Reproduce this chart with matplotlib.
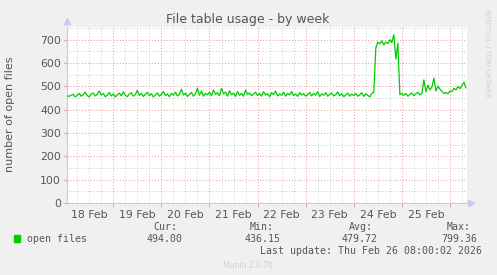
import matplotlib
matplotlib.use('Agg')
import matplotlib.pyplot as plt
import numpy as np

plt.rcParams['font.family'] = 'DejaVu Sans'

# hourly samples, hour 1 = 18 Feb 01:00 ... hour 200 = 26 Feb 08:00
open_files = [
    460, 457, 463, 466, 455, 462, 470, 458, 464, 476, 461, 455, 467, 472, 459, 466, 480, 463, 470, 456, 462, 474, 459, 468,
    455, 464, 471, 460, 477, 462, 456, 468, 473, 458, 465, 483, 461, 470, 457, 466, 475, 460, 469, 455, 463, 472, 458, 466,
    478, 460, 468, 456, 470, 462, 475, 459, 466, 488, 463, 471, 457, 465, 474, 458, 469, 493, 462, 480, 458, 470, 464, 476,
    459, 485, 466, 473, 460, 492, 468, 476, 458, 482, 464, 471, 457, 478, 462, 470, 458, 484, 465, 472, 460, 468, 475, 461,
    470, 458, 477, 463, 469, 456, 473, 465, 480, 459, 467, 462, 475, 458, 470, 464, 478, 460, 468, 457, 473, 463, 469, 458,
    466, 474, 459, 470, 463, 478, 457, 468, 462, 473, 458, 466, 471, 459, 465, 476, 460, 469, 456, 463, 472, 458, 467, 461,
    470, 458, 464, 473, 457, 468, 462, 455, 470, 475, 665, 690, 683, 695, 678, 690, 684, 700, 688, 722, 618, 685, 465, 470,
    462, 470, 458, 466, 472, 460, 468, 475, 463, 470, 528, 478, 505, 485, 498, 536, 480, 502, 488, 478, 470, 474, 468, 480,
    478, 492, 485, 500, 490, 505, 518, 494,
]
hours = np.arange(1, len(open_files) + 1)

day_labels = ['18 Feb', '19 Feb', '20 Feb', '21 Feb', '22 Feb', '23 Feb', '24 Feb', '25 Feb']
legend_cols = ['Cur:', 'Min:', 'Avg:', 'Max:']
legend_vals = ['494.00', '436.15', '479.72', '799.36']

W, H = 497, 275
fig = plt.figure(figsize=(W / 100, H / 100), dpi=100, facecolor='#f0f0f0')

x0, x1 = 0.65, 200.5
ax = fig.add_axes([66.5 / W, 1 - 203 / H, (467 - 66.5) / W, (203 - 26.5) / H])
ax.set_facecolor('white')
ax.set_xlim(x0, x1)
ax.set_ylim(0, 757)

# grid
for h in np.arange(6, 200, 6):
    if h % 24:
        ax.axvline(h, color='#c8c8c8', lw=0.7, ls=(0, (1, 2)), zorder=1)
for y in range(50, 760, 100):
    ax.axhline(y, color='#c8c8c8', lw=0.7, ls=(0, (1, 2)), zorder=1)
for h in range(24, 200, 24):
    ax.axvline(h, color='#e89a9a', lw=0.7, ls=(0, (1, 2)), zorder=1)
for y in range(100, 760, 100):
    ax.axhline(y, color='#e89a9a', lw=0.7, ls=(0, (1, 2)), zorder=1)

ax.plot(hours, open_files, color='#00cc00', lw=0.9, zorder=3)

for s in ['top', 'right']:
    ax.spines[s].set_visible(False)
for s in ['left', 'bottom']:
    ax.spines[s].set_color('#c8c8f0')
    ax.spines[s].set_linewidth(0.8)
ax.plot([0], [1.03], marker='^', color='#c8c8f0', ms=4, transform=ax.transAxes, clip_on=False)
ax.plot([1.01], [0], marker='>', color='#c8c8f0', ms=4, transform=ax.transAxes, clip_on=False)

ax.set_yticks(range(0, 800, 100))
ax.tick_params(axis='y', length=2, color='#e89a9a', labelcolor='#555555', labelsize=7.8, pad=2)
ax.set_xticks([12 + 24 * i for i in range(len(day_labels))])
ax.set_xticklabels(day_labels)
ax.tick_params(axis='x', which='major', length=0, labelcolor='#555555', labelsize=7.8, pad=5)
ax.set_xticks(range(24, 200, 24), minor=True)
ax.tick_params(axis='x', which='minor', length=3, color='#e89a9a', width=0.7)

fig.text(248 / W, 1 - 19 / H, 'File table usage - by week', ha='center', va='center',
         color='#555555', fontsize=9)
fig.text(10 / W, 1 - 114 / H, 'number of open files', rotation=90, ha='center', va='center',
         color='#555555', fontsize=8)
fig.text(487 / W, 1 - 53 / H, 'RRDTOOL / TOBI OETIKER', rotation=270, ha='center', va='center',
         color='#d0d0d0', fontsize=5)

# legend
mono = 'DejaVu Sans Mono'
fig.patches.append(plt.Rectangle((14 / W, 1 - 242 / H), 6 / W, 7 / H, color='#00cc00',
                                 transform=fig.transFigure, figure=fig))
fig.text(27 / W, 1 - 239 / H, 'open files', ha='left', va='center', color='#555555',
         fontsize=7.1, family=mono)
col_x = [177, 274, 373, 471]
val_x = [183, 281, 378, 477]
for cx, vx, c, v in zip(col_x, val_x, legend_cols, legend_vals):
    fig.text(cx / W, 1 - 227 / H, c, ha='right', va='center', color='#555555', fontsize=7.1, family=mono)
    fig.text(vx / W, 1 - 239 / H, v, ha='right', va='center', color='#555555', fontsize=7.1, family=mono)
fig.text(482 / W, 1 - 251 / H, 'Last update: Thu Feb 26 08:00:02 2026', ha='right', va='center',
         color='#555555', fontsize=7.1, family=mono)
fig.text(248 / W, 1 - 265 / H, 'Munin 2.0.76', ha='center', va='center', color='#d0d0d0', fontsize=5.5)

fig.savefig('out.png', dpi=100, facecolor=fig.get_facecolor())
